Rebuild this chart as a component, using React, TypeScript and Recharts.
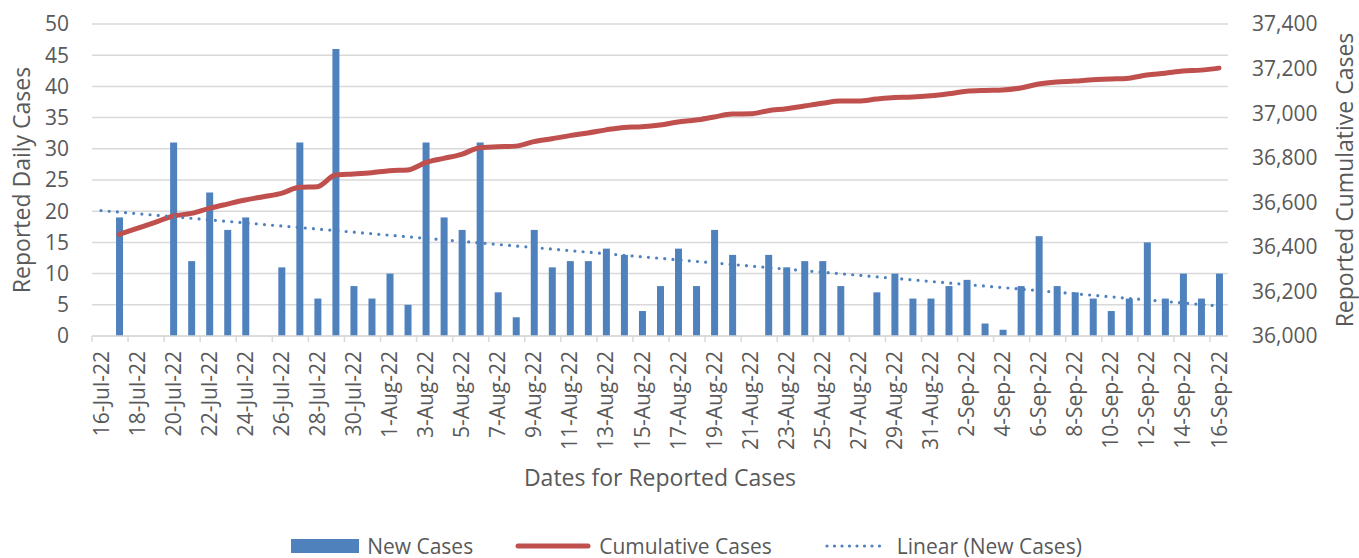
import React from 'react';
import { ComposedChart, Bar, Line, XAxis, YAxis, CartesianGrid, Legend, Label } from 'recharts';

const dates = [
  '16-Jul-22', '17-Jul-22', '18-Jul-22', '19-Jul-22', '20-Jul-22', '21-Jul-22', '22-Jul-22', '23-Jul-22',
  '24-Jul-22', '25-Jul-22', '26-Jul-22', '27-Jul-22', '28-Jul-22', '29-Jul-22', '30-Jul-22', '31-Jul-22',
  '1-Aug-22', '2-Aug-22', '3-Aug-22', '4-Aug-22', '5-Aug-22', '6-Aug-22', '7-Aug-22', '8-Aug-22',
  '9-Aug-22', '10-Aug-22', '11-Aug-22', '12-Aug-22', '13-Aug-22', '14-Aug-22', '15-Aug-22', '16-Aug-22',
  '17-Aug-22', '18-Aug-22', '19-Aug-22', '20-Aug-22', '21-Aug-22', '22-Aug-22', '23-Aug-22', '24-Aug-22',
  '25-Aug-22', '26-Aug-22', '27-Aug-22', '28-Aug-22', '29-Aug-22', '30-Aug-22', '31-Aug-22', '1-Sep-22',
  '2-Sep-22', '3-Sep-22', '4-Sep-22', '5-Sep-22', '6-Sep-22', '7-Sep-22', '8-Sep-22', '9-Sep-22',
  '10-Sep-22', '11-Sep-22', '12-Sep-22', '13-Sep-22', '14-Sep-22', '15-Sep-22', '16-Sep-22',
];

const newCases = [
  0, 19, 0, 0, 31, 12, 23, 17, 19, 0,
  11, 31, 6, 46, 8, 6, 10, 5, 31, 19,
  17, 31, 7, 3, 17, 11, 12, 12, 14, 13,
  4, 8, 14, 8, 17, 13, 0, 13, 11, 12,
  12, 8, 0, 7, 10, 6, 6, 8, 9, 2,
  1, 8, 16, 8, 7, 6, 4, 6, 15, 6,
  10, 6, 10,
];

const cumulativeCases = [
  null, 36456, 36483, 36510, 36538, 36550, 36573, 36592, 36610, 36625,
  36640, 36667, 36670, 36722, 36727, 36733, 36742, 36745, 36778, 36797,
  36815, 36845, 36849, 36852, 36872, 36885, 36899, 36911, 36925, 36936,
  36939, 36947, 36960, 36969, 36983, 36996, 36997, 37011, 37020, 37032,
  37044, 37054, 37054, 37063, 37070, 37072, 37078, 37087, 37098, 37102,
  37104, 37113, 37131, 37140, 37144, 37150, 37153, 37157, 37171, 37179,
  37189, 37193, 37202,
];

// trendline ends (first and last date)
const trendStart = 20.1;
const trendEnd = 4.8;

const leftTicks = [0, 5, 10, 15, 20, 25, 30, 35, 40, 45, 50];
const rightTicks = [36000, 36200, 36400, 36600, 36800, 37000, 37200, 37400];

const rows = dates.map((date, i) => ({
  date,
  newCases: newCases[i],
  cumulative: cumulativeCases[i],
  trend: i === 0 ? trendStart : i === dates.length - 1 ? trendEnd : null,
}));

const BLUE = '#4F81BD';
const RED = '#C0504D';
const GREY = '#595959';
const GRID = '#D9D9D9';

const PLOT_LEFT = 92;
const PLOT_RIGHT = 1228;
const band = (PLOT_RIGHT - PLOT_LEFT) / dates.length;

function DateTick(props: any) {
  const { x, y, payload } = props;
  const ty = y + 15;
  return (
    <g>
      <line x1={x - band / 2} y1={y} x2={x - band / 2} y2={y + 6} stroke={GRID} strokeWidth={1.5} />
      <text
        x={x}
        y={ty}
        transform={`rotate(-90 ${x} ${ty})`}
        textAnchor="end"
        dy="0.36em"
        fill={GREY}
        fontSize={21}
      >
        {payload.value}
      </text>
    </g>
  );
}

function axisTitle(text: string, dx: number) {
  return (props: any) => {
    const { viewBox } = props;
    const cx = viewBox.x + dx;
    const cy = viewBox.y + viewBox.height / 2;
    return (
      <text x={cx} y={cy} transform={`rotate(-90 ${cx} ${cy})`} textAnchor="middle" dy="0.36em" fill={GREY} fontSize={23}>
        {text}
      </text>
    );
  };
}

function xTitle(props: any) {
  const { viewBox } = props;
  return (
    <text x={viewBox.x + viewBox.width / 2} y={486} textAnchor="middle" fill={GREY} fontSize={23}>
      Dates for Reported Cases
    </text>
  );
}

function renderLegend() {
  const item = { display: 'flex', alignItems: 'center', color: GREY, fontSize: 21 } as const;
  return (
    <div style={{ height: 24, display: 'flex', justifyContent: 'center', alignItems: 'center', paddingLeft: 14 }}>
      <div style={item}>
        <svg width={68} height={14} style={{ marginRight: 8 }}>
          <rect x={0} y={0} width={68} height={14} fill={BLUE} />
        </svg>
        New Cases
      </div>
      <div style={{ ...item, marginLeft: 42 }}>
        <svg width={76} height={14} style={{ marginRight: 8 }}>
          <line x1={3} y1={7} x2={73} y2={7} stroke={RED} strokeWidth={5} strokeLinecap="round" />
        </svg>
        Cumulative Cases
      </div>
      <div style={{ ...item, marginLeft: 52 }}>
        <svg width={66} height={14} style={{ marginRight: 7 }}>
          <line x1={3} y1={7} x2={63} y2={7} stroke={BLUE} strokeWidth={3.2} strokeDasharray="0 7.5" strokeLinecap="round" />
        </svg>
        Linear (New Cases)
      </div>
    </div>
  );
}

export default function App() {
  return (
    <div style={{ position: 'absolute', left: 0, top: 0, width: 1359, height: 558, background: '#fff', fontFamily: "'Open Sans', sans-serif" }}>
      <ComposedChart width={1359} height={558} data={rows} margin={{ top: 24, right: 0, bottom: 0, left: 0 }}>
        <CartesianGrid vertical={false} stroke={GRID} strokeWidth={1.5} yAxisId="left" />
        <XAxis
          dataKey="date"
          interval={1}
          height={198}
          tickLine={false}
          tickSize={0}
          tickMargin={0}
          axisLine={{ stroke: GRID, strokeWidth: 1.5 }}
          tick={<DateTick />}
        >
          <Label content={xTitle} />
        </XAxis>
        <YAxis
          yAxisId="left"
          width={92}
          domain={[0, 50]}
          ticks={leftTicks}
          axisLine={false}
          tickLine={false}
          tickSize={0}
          tickMargin={23}
          tick={{ fill: GREY, fontSize: 21 }}
        >
          <Label content={axisTitle('Reported Daily Cases', 22)} />
        </YAxis>
        <YAxis
          yAxisId="right"
          orientation="right"
          width={131}
          domain={[36000, 37400]}
          ticks={rightTicks}
          axisLine={false}
          tickLine={false}
          tickSize={0}
          tickMargin={24}
          tick={{ fill: GREY, fontSize: 21 }}
          tickFormatter={(v: number) => v.toLocaleString('en-US')}
        >
          <Label content={axisTitle('Reported Cumulative Cases', 117)} />
        </YAxis>
        <Bar yAxisId="left" dataKey="newCases" name="New Cases" fill={BLUE} barSize={7} isAnimationActive={false} />
        <Line
          yAxisId="right"
          type="monotone"
          dataKey="cumulative"
          name="Cumulative Cases"
          stroke={RED}
          strokeWidth={5}
          strokeLinecap="round"
          dot={false}
          activeDot={false}
          isAnimationActive={false}
        />
        <Line
          yAxisId="left"
          type="linear"
          dataKey="trend"
          name="Linear (New Cases)"
          stroke={BLUE}
          strokeWidth={3.2}
          strokeDasharray="0 8.2"
          strokeLinecap="round"
          connectNulls
          dot={false}
          activeDot={false}
          isAnimationActive={false}
        />
        <Legend verticalAlign="bottom" height={24} content={renderLegend} />
      </ComposedChart>
    </div>
  );
}
